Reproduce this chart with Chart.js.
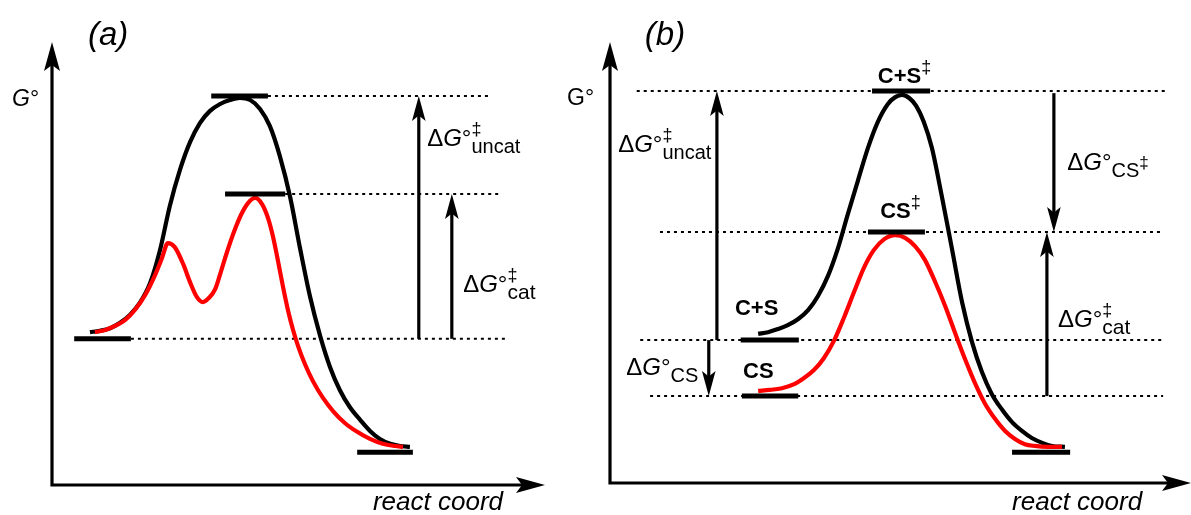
<!DOCTYPE html>
<html><head><meta charset="utf-8">
<script src="https://cdn.jsdelivr.net/npm/chart.js@4.4.1/dist/chart.umd.min.js"></script>
<style>
html,body{margin:0;padding:0;background:#fff;width:1191px;height:515px;overflow:hidden}
#ca{position:absolute;left:0;top:0}
#cb{position:absolute;left:560px;top:0}
</style></head><body>
<canvas id="ca" width="560" height="515"></canvas>
<canvas id="cb" width="631" height="515"></canvas>
<script>
// ---------- Panel (a) data (reaction coordinate 0-100, G° 0-100) ----------
const aUncatX = [7.7,9.7,11.8,13.8,15.8,17.8,19.9,21.9,23.9,26.0,28.0,30.0,32.0,34.1,36.1,38.1,40.2,42.2,44.2,46.2,48.3,50.3,52.3,54.4,56.4,58.4,60.4,62.5,64.5,66.5,68.6,70.6,72.6];
const aUncatG = [34.5,34.8,35.4,36.6,38.4,41.1,45.6,53.0,63.0,71.3,77.4,81.7,84.4,86.0,86.9,87.4,86.9,84.9,81.0,74.3,65.0,53.5,42.7,33.6,26.6,21.4,17.6,14.7,12.2,10.4,9.3,8.8,8.6];
const aCatX = [8.7,10.8,12.8,14.8,16.8,18.9,20.9,22.3,23.5,24.9,26.6,28.0,29.4,30.6,31.8,33.1,34.3,35.5,36.9,38.3,39.8,41.2,42.6,43.8,44.8,45.8,46.9,47.9,48.9,49.9,51.3,52.9,55.0,57.0,59.4,61.9,64.5,67.1,69.6,71.2];
const aCatG = [34.5,35.0,35.9,37.2,39.5,42.9,47.4,51.2,54.6,53.7,49.9,45.8,42.4,41.3,42.2,44.2,48.3,52.6,57.1,60.9,63.7,64.8,63.4,60.3,56.2,50.8,44.5,39.3,35.0,31.4,27.3,23.5,19.6,16.7,14.0,12.0,10.4,9.3,8.8,8.6];
// energy levels: reactant, uncatalysed TS, catalysed TS, product
const aLevelG  = [33.0, 87.8, 65.7, 7.4];
const aLevelX0 = [4.5, 32.3, 35.1, 61.9];
const aLevelX1 = [16.0, 43.8, 47.3, 73.2];
// dotted guides
const aGuideG  = [87.8, 65.7, 33.0];
const aGuideX0 = [43.8, 47.3, 16.0];
const aGuideX1 = [88.8, 90.9, 91.9];
// ΔG arrows
const aArrowX    = [74.4, 81.1];
const aArrowFrom = [33.0, 33.0];
const aArrowTo   = [87.8, 65.7];

// ---------- Panel (b) data ----------
const bUncatX = [25.5,27.2,28.9,30.6,32.4,34.1,35.8,37.5,39.2,40.9,42.7,44.4,46.1,47.8,49.1,50.3,51.5,52.7,54.0,55.4,57.1,58.9,60.6,62.3,64.0,65.7,67.5,69.2,70.9,72.6,74.4,76.1,78.3];
const bUncatG = [33.8,34.2,34.9,35.8,37.2,39.2,42.4,46.9,53.1,60.8,68.7,76.0,81.9,85.9,87.5,88.0,87.3,85.5,81.9,76.0,65.1,52.8,41.0,32.0,25.2,20.2,16.6,13.8,11.8,10.2,9.1,8.4,8.2];
const bCatX = [25.5,27.5,29.6,31.7,33.4,35.1,36.8,38.6,40.3,42.0,43.7,45.4,47.2,49.1,50.8,52.5,54.2,55.9,57.7,59.4,61.1,62.8,64.5,66.3,68.0,69.7,71.4,73.1,75.4,77.8];
const bCatG = [20.9,21.1,21.5,22.4,23.8,25.6,28.3,32.4,37.6,43.3,48.8,52.8,55.3,56.2,55.6,53.7,50.6,45.8,40.1,34.0,28.1,22.7,18.1,14.5,11.8,10.0,8.8,8.4,8.2,8.2];
// levels: C+S, CS, C+S‡, CS‡, product
const bLevelG  = [32.4, 19.7, 88.9, 56.9, 7.0];
const bLevelX0 = [22.5, 22.7, 45.1, 44.4, 69.2];
const bLevelX1 = [32.5, 32.4, 55.1, 54.2, 79.2];
const bGuideG  = [88.9, 56.9, 32.4, 19.7];
const bGuideX0 = [4.6, 8.6, 5.2, 6.9];
const bGuideX1 = [95.5, 94.7, 95.5, 95.2];
const bArrowX    = [18.4, 17.0, 76.4, 75.2];
const bArrowFrom = [32.4, 32.4, 88.4, 19.7];
const bArrowTo   = [88.9, 19.7, 56.9, 56.9];

const FONT = '"Liberation Sans", Arial, Helvetica, sans-serif';

function pts(xs, ys){ return xs.map((x,i)=>({x:x, y:ys[i]})); }
function curve(xs, ys, color, order){
  return {data: pts(xs, ys), borderColor: color, borderWidth: 4.2, pointRadius: 0,
    cubicInterpolationMode: 'monotone', fill: false, order: order, borderCapStyle:'butt'};
}
function segments(g, x0, x1, width, dash, order){
  return g.map((v,i)=>({data:[{x:x0[i],y:v},{x:x1[i],y:v}], borderColor:'#000', borderWidth:width,
    borderDash: dash, pointRadius:0, fill:false, order:order, borderCapStyle:'butt', tension:0}));
}
function head(ctx, x, y, dx, dy, len, half, notch){
  const bx = x - dx*len, by = y - dy*len, nx = -dy, ny = dx;
  ctx.beginPath();
  ctx.moveTo(x, y);
  ctx.lineTo(bx + nx*half, by + ny*half);
  ctx.lineTo(x - dx*(len-notch), y - dy*(len-notch));
  ctx.lineTo(bx - nx*half, by - ny*half);
  ctx.closePath(); ctx.fill();
}
function drawRich(ctx, x, y, segs){
  let cx = x;
  for (const s of segs){
    ctx.font = (s.i?'italic ':'') + (s.b?'bold ':'') + s.size + 'px ' + FONT;
    ctx.fillText(s.t, cx + (s.dx||0), y + (s.dy||0));
    if (!s.stack) cx += ctx.measureText(s.t).width + (s.dx||0);
  }
}
const dG = sz => [{t:'\u0394',size:sz},{t:'G',i:true,size:sz},{t:'\u00B0',size:sz}];

function diagramPlugin(cfg){
  return {id:'diagram', afterDatasetsDraw(chart){
    const ctx = chart.ctx, x = chart.scales.x, y = chart.scales.y;
    ctx.save();
    ctx.fillStyle = '#000'; ctx.strokeStyle = '#000';
    ctx.lineWidth = 3.2; ctx.lineCap = 'butt'; ctx.lineJoin = 'miter';
    const ox = x.getPixelForValue(0), oy = y.getPixelForValue(0);
    const tx = x.getPixelForValue(100), ty = y.getPixelForValue(100);
    ctx.beginPath(); ctx.moveTo(ox, ty + 22); ctx.lineTo(ox, oy); ctx.lineTo(tx - 22, oy); ctx.stroke();
    head(ctx, ox, ty, 0, -1, 29, 8, 6);
    head(ctx, tx, oy, 1, 0, 29, 8, 6);
    ctx.lineWidth = 3.2;
    cfg.ax.forEach((ax, i) => {
      const px = x.getPixelForValue(ax);
      const p0 = y.getPixelForValue(cfg.from[i]), p1 = y.getPixelForValue(cfg.to[i]);
      const dir = p1 < p0 ? -1 : 1;
      ctx.beginPath(); ctx.moveTo(px, p0); ctx.lineTo(px, p1 - dir*19); ctx.stroke();
      head(ctx, px, p1, 0, dir, 25, 6.8, 5.5);
    });
    ctx.textAlign = 'left'; ctx.textBaseline = 'alphabetic';
    cfg.texts.forEach(t => drawRich(ctx, x.getPixelForValue(t.x), y.getPixelForValue(t.y), t.segs));
    ctx.restore();
  }};
}
function makeChart(id, datasets, padding, cfg){
  return new Chart(document.getElementById(id), {
    type: 'line',
    data: {datasets: datasets},
    options: {
      responsive: false, animation: false, devicePixelRatio: 1,
      layout: {padding: padding},
      scales: {
        x: {type:'linear', min:0, max:100, display:false},
        y: {type:'linear', min:0, max:100, display:false}
      },
      plugins: {legend:{display:false}, tooltip:{enabled:false}},
      elements: {line:{borderJoinStyle:'round', capBezierPoints:true}}
    },
    plugins: [diagramPlugin(cfg)]
  });
}

// ----- Panel (a) -----
makeChart('ca', [
  ...segments(aGuideG, aGuideX0, aGuideX1, 2, [3,4], 3),
  curve(aUncatX, aUncatG, '#000', 2),
  curve(aCatX, aCatG, '#ff0000', 1.5),
  ...segments(aLevelG, aLevelX0, aLevelX1, 5, [], 1)
], {left:52, right:15, top:42, bottom:30}, {
  ax: aArrowX, from: aArrowFrom, to: aArrowTo,
  texts: [
    {x:7.3, y:99.3, segs:[{t:'(a)', i:true, size:33}]},
    {x:-8.1, y:85.6, segs:[{t:'G', i:true, size:23},{t:'\u00B0', size:23}]},
    {x:76.1, y:76.5, segs:[...dG(24), {t:'\u2021', size:18, dy:-11, stack:true}, {t:'uncat', size:20, dy:7}]},
    {x:83.4, y:43.6, segs:[...dG(24), {t:'\u2021', size:18, dy:-11, stack:true}, {t:'cat', size:21, dy:7}]},
    {x:65.1, y:-5.6, segs:[{t:'react coord', i:true, size:26}]}
  ]
});

// ----- Panel (b) -----
makeChart('cb', [
  ...segments(bGuideG, bGuideX0, bGuideX1, 2, [3,4], 3),
  curve(bUncatX, bUncatG, '#000', 2),
  curve(bCatX, bCatG, '#ff0000', 1.5),
  ...segments(bLevelG, bLevelX0, bLevelX1, 5, [], 1)
], {left:50, right:0, top:42, bottom:32}, {
  ax: bArrowX, from: bArrowFrom, to: bArrowTo,
  texts: [
    {x:6.0, y:99.3, segs:[{t:'(b)', i:true, size:33}]},
    {x:-7.4, y:85.7, segs:[{t:'G\u00B0', size:23}]},
    {x:1.4, y:75.1, segs:[...dG(24), {t:'\u2021', size:18, dy:-11, stack:true}, {t:'uncat', size:20, dy:7}]},
    {x:2.8, y:24.5, segs:[...dG(24), {t:'CS', size:20, dy:7}]},
    {x:78.7, y:71.0, segs:[...dG(24), {t:'CS', size:20, dy:7}, {t:'\u2021', size:17, dy:-2}]},
    {x:77.1, y:35.4, segs:[...dG(24), {t:'\u2021', size:18, dy:-11, stack:true}, {t:'cat', size:21, dy:7}]},
    {x:46.1, y:90.7, segs:[{t:'C+S', b:true, size:22}, {t:'\u2021', size:18, dy:-10}]},
    {x:46.5, y:60.1, segs:[{t:'CS', b:true, size:22}, {t:'\u2021', size:18, dy:-10}]},
    {x:21.5, y:38.1, segs:[{t:'C+S', b:true, size:22}]},
    {x:22.9, y:23.8, segs:[{t:'CS', b:true, size:22}]},
    {x:69.2, y:-6.1, segs:[{t:'react coord', i:true, size:26}]}
  ]
});
</script>
</body></html>
